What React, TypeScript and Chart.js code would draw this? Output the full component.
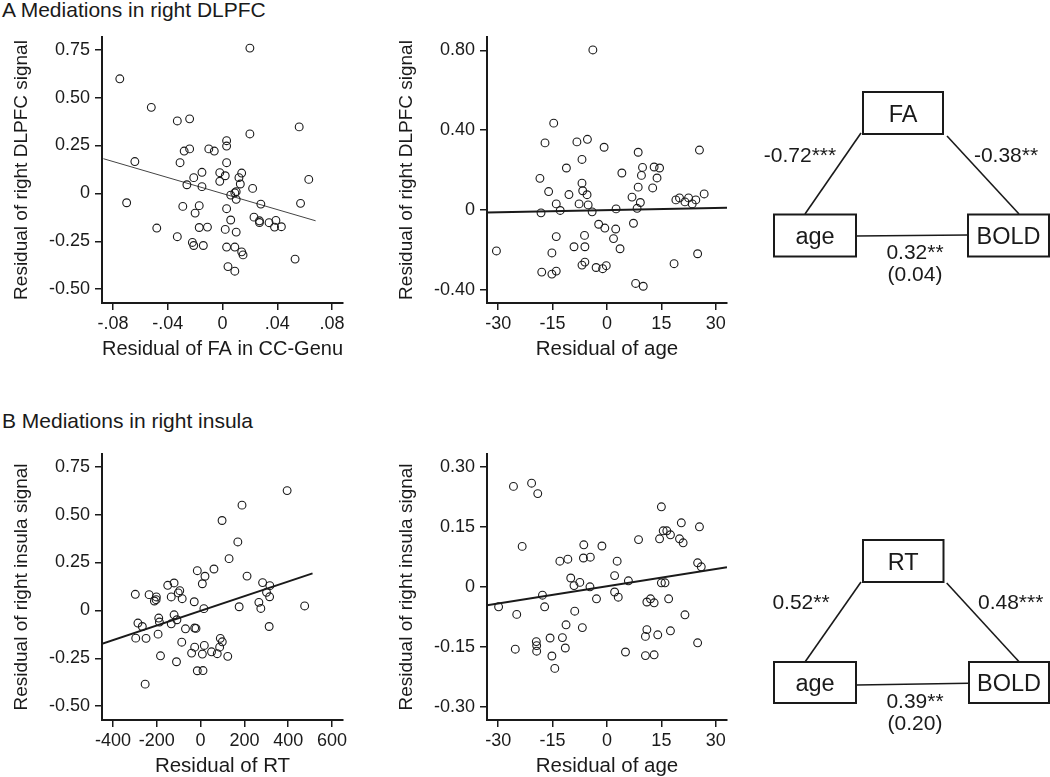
import React, { useEffect, useRef } from "react";
import { Chart, registerables } from "chart.js";
Chart.register(...registerables);

const FONT = "'Liberation Sans', Arial, Helvetica, sans-serif";
const INK = "#1a1a1a";

// ---------- Panel A, left: residual FA (CC-Genu) vs right DLPFC signal ----------
const a1X = [-0.075, 0.020, -0.052, -0.033, -0.024, 0.056, 0.020, 0.003, 0.003, -0.028, -0.024, -0.010, -0.006, -0.064, -0.031, 0.003, -0.015, -0.002, 0.002, 0.014, -0.021, -0.002, 0.012, 0.013, 0.063, -0.026, -0.015, 0.022, 0.006, 0.010, 0.009, 0.010, -0.070, 0.028, 0.057, -0.029, -0.017, 0.003, -0.020, 0.023, 0.027, 0.027, 0.006, 0.034, 0.039, 0.038, 0.043, -0.048, -0.017, -0.011, 0.002, 0.010, -0.033, -0.022, -0.021, -0.014, 0.003, 0.009, 0.014, 0.015, 0.053, 0.004, 0.009];
const a1Y = [0.598, 0.758, 0.449, 0.378, 0.389, 0.347, 0.310, 0.275, 0.247, 0.221, 0.232, 0.232, 0.221, 0.166, 0.160, 0.160, 0.110, 0.108, 0.092, 0.106, 0.082, 0.063, 0.082, 0.049, 0.073, 0.045, 0.035, 0.026, -0.009, 0.009, 0.003, -0.031, -0.049, -0.056, -0.052, -0.068, -0.064, -0.080, -0.103, -0.124, -0.143, -0.152, -0.139, -0.153, -0.141, -0.176, -0.174, -0.181, -0.178, -0.176, -0.188, -0.202, -0.226, -0.256, -0.272, -0.272, -0.280, -0.280, -0.305, -0.321, -0.343, -0.382, -0.406];
const a1FitX = [-0.087, 0.068];
const a1FitY = [0.181, -0.143];
const a1XTicks = [-0.08, -0.04, 0, 0.04, 0.08];
const a1XLabels = ["-.08", "-.04", "0", ".04", ".08"];
const a1YTicks = [0.75, 0.5, 0.25, 0, -0.25, -0.5];
const a1YLabels = ["0.75", "0.50", "0.25", "0", "-0.25", "-0.50"];

// ---------- Panel A, middle: residual age vs right DLPFC signal ----------
const a2X = [-30.5, -18.5, -18.2, -18.0, -17.1, -16.1, -15.2, -15.2, -14.7, -14.0, -14.0, -14.0, -12.9, -11.2, -10.5, -9.1, -8.3, -7.7, -6.9, -6.9, -6.7, -6.2, -6.1, -5.4, -5.5, -5.2, -4.1, -3.9, -6.9, -6.1, -3.0, -2.3, -1.2, -0.8, -0.6, -0.2, 1.8, 2.4, 2.5, 3.6, 4.1, 6.9, 7.3, 8.3, 8.6, 8.6, 9.2, 9.5, 9.8, 7.9, 10.0, 13.0, 14.5, 13.8, 12.6, 19.0, 20.0, 21.5, 22.5, 23.5, 24.5, 18.5, 25.0, 25.5, 26.8];
const a2Y = [-0.206, 0.158, -0.015, -0.312, 0.336, 0.092, -0.216, -0.322, 0.435, 0.030, -0.134, -0.307, -0.003, 0.210, 0.077, -0.185, 0.341, 0.030, 0.253, 0.134, 0.096, -0.128, -0.185, 0.354, 0.076, 0.025, -0.010, 0.802, -0.277, -0.262, -0.289, -0.072, -0.295, 0.314, -0.091, -0.280, -0.144, -0.096, 0.005, -0.195, 0.185, 0.064, -0.067, 0.008, 0.289, 0.114, 0.037, 0.173, 0.213, -0.369, -0.383, 0.215, 0.21, 0.16, 0.11, 0.05, 0.06, 0.04, 0.06, 0.03, 0.05, -0.27, -0.22, 0.30, 0.08];
const a2FitX = [-33.1, 33.1];
const a2FitY = [-0.013, 0.011];
const ageTicks = [-30, -15, 0, 15, 30];
const ageLabels = ["-30", "-15", "0", "15", "30"];
const a2YTicks = [0.8, 0.4, 0, -0.4];
const a2YLabels = ["0.80", "0.40", "0", "-0.40"];

// ---------- Panel B, left: residual RT vs right insula signal ----------
const b1X = [-298, -286, -266, -296, -249, -253, -235, -211, -202, -203, -191, -188, -194, -183, -150, -134, -121, -121, -108, -134, -102, -95, -84, -110, -86, -69, -41, -27, -21, -27, -29, -15, 8, 20, 15, 17, 8, -15, 11, 50, 61, 76, 87, 90, 99, 124, 98, 130, 170, 176, 189, 212, 266, 275, 283, 301, 316, 315, 313, 395, 475];
const b1Y = [0.084, -0.066, -0.084, -0.145, -0.146, -0.385, 0.082, 0.049, 0.070, 0.056, -0.040, -0.061, -0.124, -0.237, 0.131, 0.070, 0.143, -0.023, -0.049, -0.070, 0.091, 0.103, 0.061, -0.268, -0.166, -0.096, -0.223, -0.092, -0.094, -0.192, 0.045, 0.207, 0.139, 0.178, 0.009, -0.183, -0.228, -0.315, -0.314, -0.216, 0.216, -0.226, -0.192, -0.146, -0.164, -0.240, 0.469, 0.270, 0.357, 0.019, 0.549, 0.179, 0.042, 0.010, 0.145, 0.094, 0.129, 0.071, -0.084, 0.625, 0.023];
const b1FitX = [-450, 511];
const b1FitY = [-0.174, 0.193];
const b1XTicks = [-400, -200, 0, 200, 400, 600];
const b1XLabels = ["-400", "-200", "0", "200", "400", "600"];
const b1YTicks = [0.75, 0.5, 0.25, 0, -0.25, -0.5];
const b1YLabels = ["0.75", "0.50", "0.25", "0", "-0.25", "-0.50"];

// ---------- Panel B, middle: residual age vs right insula signal ----------
const b2X = [-29.9, -25.8, -25.3, -24.9, -23.4, -20.8, -19.1, -19.5, -19.4, -19.4, -17.8, -17.2, -15.7, -15.2, -14.4, -13.0, -12.3, -11.5, -11.3, -10.8, -10.0, -9.1, -8.9, -7.5, -6.8, -6.4, -6.5, -4.6, -4.7, -2.9, -1.4, 2.1, 2.1, 2.8, 3.1, 5.1, 5.9, 8.7, 11.0, 11.0, 10.6, 10.6, 15.0, 15.5, 16.5, 14.5, 17.5, 20.5, 20.0, 21.0, 25.5, 25.0, 26.0, 15.0, 16.0, 13.0, 14.0, 17.5, 21.5, 25.0, 17.0, 13.0, 12.0];
const b2Y = [-0.050, 0.251, -0.156, -0.069, 0.101, 0.259, 0.233, -0.137, -0.147, -0.161, -0.021, -0.050, -0.128, -0.173, -0.204, 0.064, -0.127, -0.153, -0.095, 0.069, 0.022, 0.003, -0.061, 0.011, -0.102, 0.105, 0.072, 0.074, 0.000, -0.030, 0.102, 0.028, -0.013, 0.064, -0.026, -0.163, 0.015, 0.118, -0.038, -0.107, -0.124, -0.172, 0.20, 0.14, 0.14, 0.12, 0.13, 0.16, 0.12, 0.11, 0.15, 0.06, 0.05, 0.01, 0.01, -0.04, -0.12, -0.11, -0.07, -0.14, -0.03, -0.17, -0.03];
const b2FitX = [-33.1, 33.1];
const b2FitY = [-0.046, 0.049];
const b2YTicks = [0.3, 0.15, 0, -0.15, -0.3];
const b2YLabels = ["0.30", "0.15", "0", "-0.15", "-0.30"];

type PlotProps = {
  left: number; top: number; width: number; height: number;
  axisX: number; areaTop: number; areaRight: number; areaBottom: number;
  xs: number[]; ys: number[]; fitX: number[]; fitY: number[];
  fitWidth: number; fitColor: string;
  xMin: number; xMax: number; yMin: number; yMax: number;
  xTicks: number[]; xLabels: string[]; yTicks: number[]; yLabels: string[];
  xTitle: string; yTitle: string;
};

function Scatter(p: PlotProps) {
  const ref = useRef<HTMLCanvasElement | null>(null);
  useEffect(() => {
    const tickFont = { family: FONT, size: 18 };
    const chart = new Chart(ref.current as HTMLCanvasElement, {
      type: "scatter",
      data: {
        datasets: [
          {
            type: "scatter",
            data: p.xs.map((x, i) => ({ x, y: p.ys[i] })),
            pointRadius: 3.9,
            pointHoverRadius: 3.9,
            pointBorderWidth: 1.1,
            pointBorderColor: INK,
            pointBackgroundColor: "rgba(0,0,0,0)",
            borderColor: INK,
            backgroundColor: "rgba(0,0,0,0)",
          },
          {
            type: "line",
            data: p.fitX.map((x, i) => ({ x, y: p.fitY[i] })),
            borderColor: p.fitColor,
            borderWidth: p.fitWidth,
            pointRadius: 0,
            fill: false,
            tension: 0,
          },
        ],
      } as any,
      options: {
        responsive: false,
        animation: false,
        events: [],
        layout: { padding: { top: p.areaTop, right: p.width - p.areaRight, left: 0, bottom: 0 } },
        plugins: { legend: { display: false }, tooltip: { enabled: false } },
        scales: {
          x: {
            type: "linear",
            min: p.xMin,
            max: p.xMax,
            afterBuildTicks: (a: any) => { a.ticks = p.xTicks.map((v) => ({ value: v })); },
            afterFit: (s: any) => { s.height = p.height - p.areaBottom; },
            ticks: {
              autoSkip: false, maxRotation: 0, minRotation: 0, padding: 3,
              font: tickFont, color: INK,
              callback: (_v: any, i: number) => p.xLabels[i],
            },
            grid: { display: true, drawOnChartArea: false, drawTicks: true, tickLength: 7, color: INK, lineWidth: 1.5 },
            border: { display: true, color: INK, width: 2 },
            title: { display: true, text: p.xTitle, font: { family: FONT, size: 20.5 }, color: INK, padding: { top: 0, bottom: 9 } },
          },
          y: {
            type: "linear",
            min: p.yMin,
            max: p.yMax,
            afterBuildTicks: (a: any) => { a.ticks = p.yTicks.map((v) => ({ value: v })); },
            afterFit: (s: any) => { s.width = p.axisX; },
            ticks: {
              autoSkip: false, padding: 5, font: tickFont, color: INK,
              callback: (_v: any, i: number) => p.yLabels[i],
            },
            grid: { display: true, drawOnChartArea: false, drawTicks: true, tickLength: 7, color: INK, lineWidth: 1.5 },
            border: { display: true, color: INK, width: 2 },
            title: { display: true, text: p.yTitle, font: { family: FONT, size: 19 }, color: INK, padding: { top: 10, bottom: 0 } },
          },
        },
      } as any,
    });
    return () => chart.destroy();
  }, []);
  return (
    <canvas
      ref={ref}
      width={p.width}
      height={p.height}
      style={{ position: "absolute", left: p.left, top: p.top, width: p.width, height: p.height }}
    />
  );
}

type Box = { x: number; y: number; w: number; h: number; label: string };
type Seg = [number, number, number, number];
type Lbl = { x: number; y: number; text: string };

function Diagram({ boxes, segs, labels }: { boxes: Box[]; segs: Seg[]; labels: Lbl[] }) {
  return (
    <g>
      {segs.map((s, i) => (
        <line key={"s" + i} x1={s[0]} y1={s[1]} x2={s[2]} y2={s[3]} stroke={INK} strokeWidth={1.6} />
      ))}
      {boxes.map((b, i) => (
        <g key={"b" + i}>
          <rect x={b.x} y={b.y} width={b.w} height={b.h} fill="#fff" stroke={INK} strokeWidth={2} />
          <text x={b.x + b.w / 2} y={b.y + b.h / 2 + 8.5} textAnchor="middle" fontSize={23.5} fontFamily={FONT} fill={INK}>
            {b.label}
          </text>
        </g>
      ))}
      {labels.map((l, i) => (
        <text key={"l" + i} x={l.x} y={l.y + 7.5} textAnchor="middle" fontSize={21} fontFamily={FONT} fill={INK}>
          {l.text}
        </text>
      ))}
    </g>
  );
}

const diagA = {
  boxes: [
    { x: 863, y: 92, w: 80, h: 42, label: "FA" },
    { x: 774, y: 214.5, w: 82, h: 42, label: "age" },
    { x: 968, y: 214.5, w: 81, h: 42, label: "BOLD" },
  ],
  segs: [
    [861, 133, 805, 214],
    [947, 136, 1019, 214],
    [856, 236, 968, 235],
  ] as Seg[],
  labels: [
    { x: 800, y: 154, text: "-0.72***" },
    { x: 1006, y: 154, text: "-0.38**" },
    { x: 915, y: 251, text: "0.32**" },
    { x: 915, y: 273, text: "(0.04)" },
  ],
};

const diagB = {
  boxes: [
    { x: 863, y: 540, w: 80.5, h: 42, label: "RT" },
    { x: 774, y: 662, w: 82, h: 41, label: "age" },
    { x: 969, y: 662, w: 80, h: 41, label: "BOLD" },
  ],
  segs: [
    [861, 582, 805, 662],
    [946.7, 583, 1019.3, 662],
    [856.7, 685, 969, 683.3],
  ] as Seg[],
  labels: [
    { x: 801, y: 601.7, text: "0.52**" },
    { x: 1010.7, y: 601.7, text: "0.48***" },
    { x: 915, y: 700, text: "0.39**" },
    { x: 915, y: 722, text: "(0.20)" },
  ],
};

const titleStyle: React.CSSProperties = {
  position: "absolute", left: 2, fontSize: 21, lineHeight: "21px", whiteSpace: "nowrap", color: INK, fontFamily: FONT,
};

export default function App() {
  const dyB = 417.4;
  return (
    <div style={{ position: "absolute", left: 0, top: 0, width: 1050, height: 777, background: "#fff", overflow: "hidden" }}>
      <div style={{ ...titleStyle, top: -1.5 }}>A Mediations in right DLPFC</div>
      <div style={{ ...titleStyle, top: 410 }}>B Mediations in right insula</div>
      <Scatter
        left={0} top={0} width={360} height={371}
        axisX={102} areaTop={37} areaRight={343} areaBottom={303}
        xs={a1X} ys={a1Y} fitX={a1FitX} fitY={a1FitY} fitWidth={1} fitColor="#444"
        xMin={-0.088} xMax={0.088} yMin={-0.572} yMax={0.816}
        xTicks={a1XTicks} xLabels={a1XLabels} yTicks={a1YTicks} yLabels={a1YLabels}
        xTitle="Residual of FA in CC-Genu" yTitle="Residual of right DLPFC signal"
      />
      <Scatter
        left={385} top={0} width={360} height={371}
        axisX={102} areaTop={37} areaRight={342} areaBottom={303}
        xs={a2X} ys={a2Y} fitX={a2FitX} fitY={a2FitY} fitWidth={2} fitColor={INK}
        xMin={-33.1} xMax={33.1} yMin={-0.467} yMax={0.867}
        xTicks={ageTicks} xLabels={ageLabels} yTicks={a2YTicks} yLabels={a2YLabels}
        xTitle="Residual of age" yTitle="Residual of right DLPFC signal"
      />
      <Scatter
        left={0} top={dyB} width={360} height={371}
        axisX={102} areaTop={37} areaRight={343} areaBottom={303}
        xs={b1X} ys={b1Y} fitX={b1FitX} fitY={b1FitY} fitWidth={2} fitColor={INK}
        xMin={-450} xMax={650} yMin={-0.572} yMax={0.816}
        xTicks={b1XTicks} xLabels={b1XLabels} yTicks={b1YTicks} yLabels={b1YLabels}
        xTitle="Residual of RT" yTitle="Residual of right insula signal"
      />
      <Scatter
        left={385} top={dyB} width={360} height={371}
        axisX={102} areaTop={37} areaRight={342} areaBottom={303}
        xs={b2X} ys={b2Y} fitX={b2FitX} fitY={b2FitY} fitWidth={2} fitColor={INK}
        xMin={-33.1} xMax={33.1} yMin={-0.333} yMax={0.332}
        xTicks={ageTicks} xLabels={ageLabels} yTicks={b2YTicks} yLabels={b2YLabels}
        xTitle="Residual of age" yTitle="Residual of right insula signal"
      />
      <svg width={1050} height={777} style={{ position: "absolute", left: 0, top: 0 }}>
        <Diagram {...diagA} />
        <Diagram {...diagB} />
      </svg>
    </div>
  );
}
